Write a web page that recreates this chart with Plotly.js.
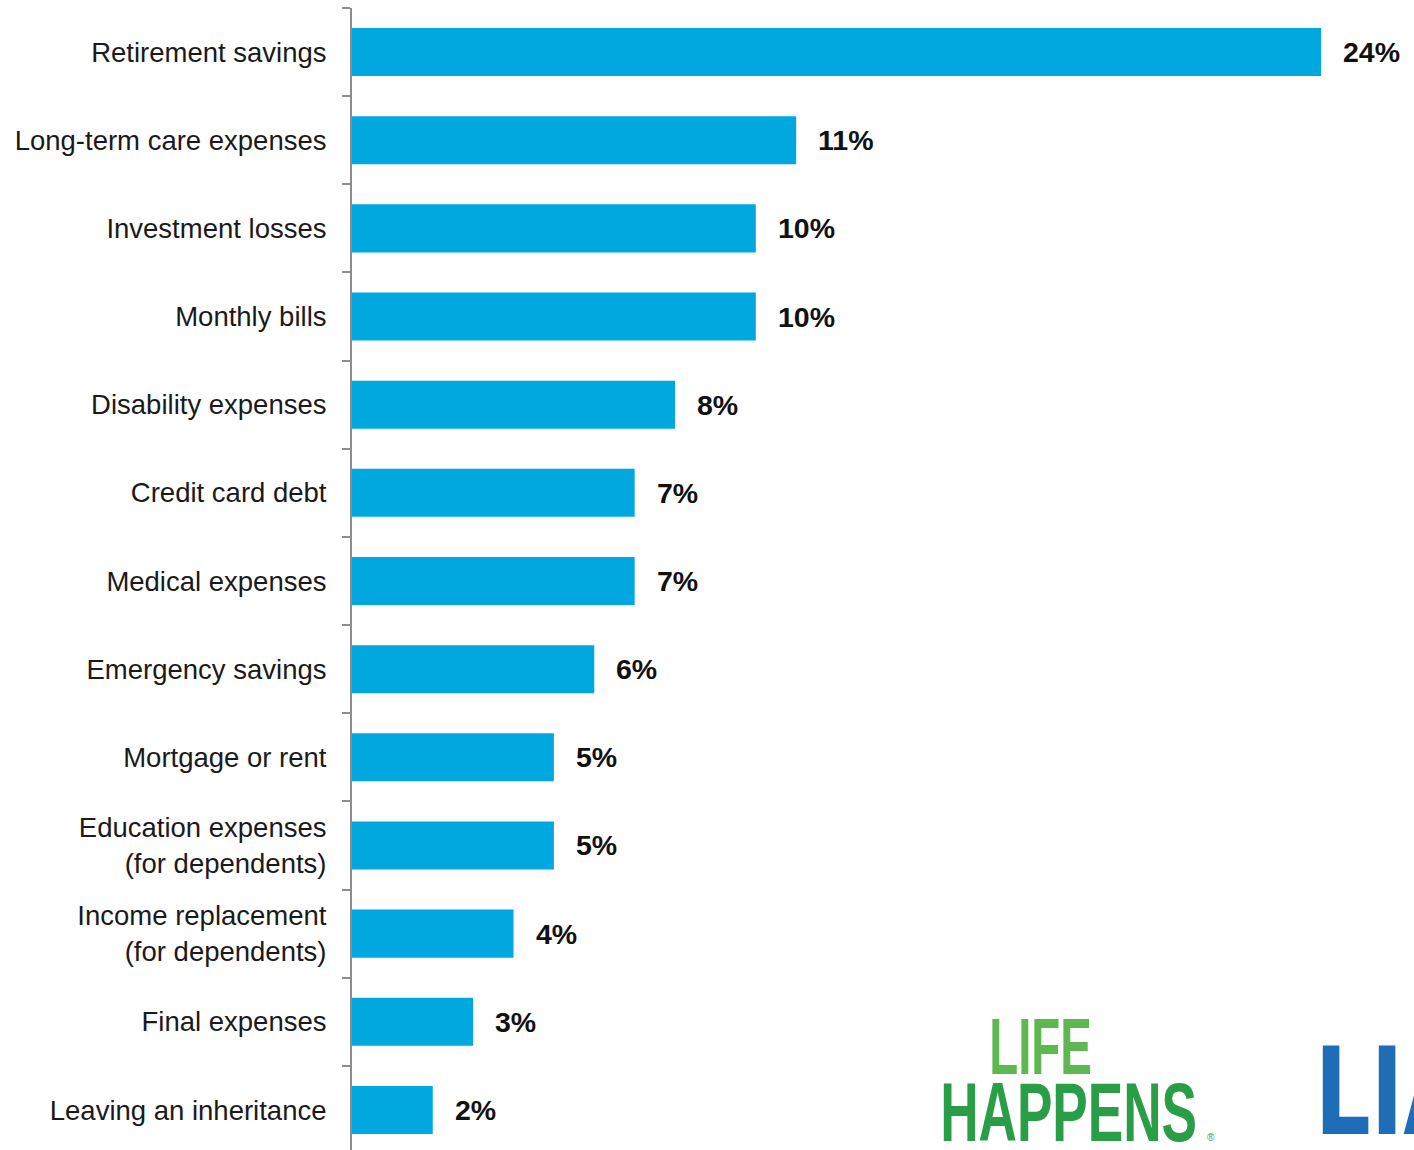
<!DOCTYPE html>
<html>
<head>
<meta charset="utf-8">
<script src="https://cdn.plot.ly/plotly-3.0.1.min.js"></script>
<style>
html, body { margin: 0; padding: 0; overflow: hidden; background: #fff; }
#chart { width: 1414px; height: 1154px; }
</style>
</head>
<body>
<div id="chart"></div>
<script>
const categories = [
  "Retirement savings",
  "Long-term care expenses",
  "Investment losses",
  "Monthly bills",
  "Disability expenses",
  "Credit card debt",
  "Medical expenses",
  "Emergency savings",
  "Mortgage or rent",
  "Education expenses<br>(for dependents)",
  "Income replacement<br>(for dependents)",
  "Final expenses",
  "Leaving an inheritance"
];
const values = [24, 11, 10, 10, 8, 7, 7, 6, 5, 5, 4, 3, 2];
const valueLabels = values.map(v => v + "%");

const barColor = "#00a8df";
const labelFont = "Liberation Sans, Arial, sans-serif";
const logoFont = "Liberation Sans, Arial, sans-serif";

const valueAnnotations = values.map((v, i) => ({
  x: v, y: categories[i], xref: "x", yref: "y",
  text: valueLabels[i], showarrow: false,
  xanchor: "left", yanchor: "middle", xshift: 20,
  font: { family: labelFont, size: 28.5, color: "#111", weight: "bold" }
}));

const logoAnnotations = [
  { xref: "paper", yref: "paper", x: 0.648, y: 0.0942, xanchor: "center", yanchor: "middle",
    text: "LIFE", showarrow: false,
    font: { family: logoFont, size: 79, color: "#5cb84f", weight: "bold" } },
  { xref: "paper", yref: "paper", x: 0.675, y: 0.0366, xanchor: "center", yanchor: "middle",
    text: "HAPPENS", showarrow: false,
    font: { family: logoFont, size: 83, color: "#2a9d47", weight: "bold" } },
  { xref: "paper", yref: "paper", x: 0.905, y: -0.01, xanchor: "left", yanchor: "bottom",
    text: "<b>LIA</b>", showarrow: false,
    font: { family: "DejaVu Sans Condensed, DejaVu Sans, sans-serif", size: 122, color: "#1e6db7" } },
  { xref: "paper", yref: "paper", x: 0.8035, y: 0.008, xanchor: "left", yanchor: "bottom",
    text: "®", showarrow: false,
    font: { family: logoFont, size: 10, color: "#2a9d47" } }
];

const trace = {
  type: "bar",
  orientation: "h",
  x: values,
  y: categories,
  marker: { color: barColor },
  hoverinfo: "x+y"
};

const layout = {
  width: 1414,
  height: 1154,
  margin: { l: 352, r: 0, t: 8, b: 0 },
  paper_bgcolor: "#fff",
  plot_bgcolor: "#fff",
  showlegend: false,
  bargap: 0.455,
  xaxis: {
    range: [0, 26.3],
    showticklabels: false, showgrid: false, zeroline: false, showline: false, ticks: ""
  },
  yaxis: {
    type: "category",
    autorange: "reversed",
    showline: true, linecolor: "#8c8c8c", linewidth: 2,
    ticks: "outside", tickson: "boundaries", ticklen: 8, tickcolor: "#8c8c8c", tickwidth: 2,
    showgrid: false, zeroline: false,
    ticklabelstandoff: 18,
    tickfont: { family: labelFont, size: 27.5, color: "#1a1a1a" }
  },
  annotations: valueAnnotations.concat(logoAnnotations)
};

Plotly.newPlot("chart", [trace], layout, { displayModeBar: false, staticPlot: true }).then(() => {
  // condense the logo wordmarks horizontally (text stays real text)
  const squeeze = { 13: 0.6, 14: 0.64, 15: 0.8 };
  Object.keys(squeeze).forEach(idx => {
    const g = document.querySelector('#chart g.annotation[data-index="' + idx + '"]');
    if (g) {
      g.style.transformBox = "fill-box";
      g.style.transformOrigin = idx === "15" ? "left center" : "center";
      g.style.transform = "scaleX(" + squeeze[idx] + ")";
    }
  });
});
</script>
</body>
</html>
